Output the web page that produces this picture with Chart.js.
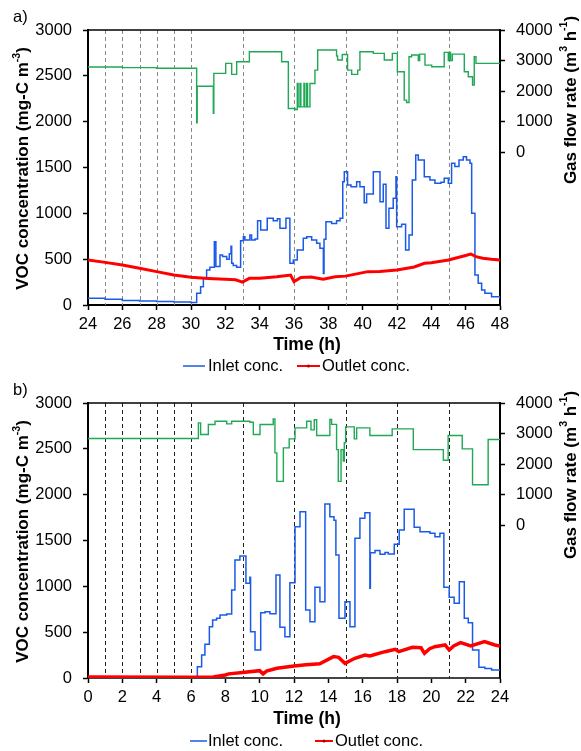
<!DOCTYPE html>
<html>
<head>
<meta charset="utf-8">
<script src="https://cdn.jsdelivr.net/npm/chart.js@4.4.0/dist/chart.umd.min.js"></script>
<style>
  body { margin: 0; background: #fff; }
  .panel { position: absolute; left: 0; width: 581px; }
</style>
</head>
<body>
<div class="panel" style="top:0"><canvas id="chartA" width="581" height="375"></canvas></div>
<div class="panel" style="top:375px"><canvas id="chartB" width="581" height="376"></canvas></div>
<script>
// ---- panel a (24-48 h) ----
const aInletT = [24,25,26,27,28,29,30,30.33,30.56,30.72,30.91,31.1,31.36,31.45,31.69,31.84,32.08,32.23,32.33,32.37,32.46,32.66,32.89,33.05,33.14,33.43,33.53,33.73,33.88,34.06,34.44,34.79,35.03,35.18,35.53,35.76,35.96,36.19,36.54,36.74,37.03,37.32,37.51,37.71,37.75,37.86,38.19,38.48,38.68,38.84,38.93,39.12,39.32,39.65,39.84,40.09,40.23,40.62,41.01,41.2,41.36,41.53,41.78,41.94,41.98,42.27,42.5,42.7,42.89,43.09,43.24,43.59,43.92,44.21,44.56,44.75,44.99,45.18,45.37,45.61,45.86,46.05,46.25,46.35,46.54,46.73,46.93,47.12,47.51,48];
const aInletV = [75,62,50,44,38,33,28,128,200,291,382,411,690,420,545,530,500,560,640,455,430,411,702,745,709,764,709,720,920,818,946,920,940,837,946,455,491,600,727,745,709,673,618,345,716,909,890,920,946,1345,1455,1309,1291,1345,1291,1116,1211,1455,1127,1316,837,1055,1164,1400,855,880,600,764,1364,1637,1582,1400,1364,1327,1340,1382,1327,1546,1510,1582,1618,1582,1546,1000,327,236,164,128,91,65];
const aOutT = [24,25,26,27,28,29,30,31,32,32.6,33,33.4,34,35,35.8,36,36.4,37,37.7,38.4,39,40.3,41,42,43,43.6,44,45,46,46.3,46.6,47,47.5,48];
const aOutV = [491,465,436,400,364,327,302,290,280,275,250,291,291,309,327,255,300,305,282,309,315,364,365,382,415,455,460,491,540,556,527,510,498,491];
const aFlowT = [24,26,28,30.33,30.36,31.3,31.33,32.02,32.37,32.66,33.4,35.28,35.67,36.06,36.19,36.24,36.35,36.4,36.58,36.63,36.74,36.79,36.93,37.22,37.38,38.48,38.54,38.81,39.12,39.36,39.71,39.84,40.62,41.26,41.73,42.02,42.42,42.56,42.7,42.85,43.24,43.32,43.63,44.02,44.75,44.99,45.05,45.12,45.22,45.92,46.15,46.4,46.5,46.6,48];
const aFlowV = [2790,2770,2750,960,2160,1270,2580,2907,2547,2960,3290,2960,1430,1400,2250,1485,2250,1485,2250,1485,2250,1485,2250,2688,3344,3147,3016,3200,2688,2547,2688,3290,3235,3016,3235,2633,1704,1628,3125,3180,3000,3212,2852,2796,3268,3000,3268,3000,3212,2633,2469,2196,3125,2907,2907];
const aMarks = [25,26,27,28,29,30,33,36,39,42,45];

// ---- panel b (0-24 h) ----
const bInletT = [0,6.37,6.62,6.81,7.07,7.26,7.49,7.69,8.08,8.37,8.56,8.85,9.2,9.43,9.47,9.73,10.06,10.31,10.6,10.95,11.18,11.47,11.76,12.06,12.35,12.68,12.93,13.22,13.51,13.8,14.09,14.33,14.44,14.62,14.97,15.26,15.55,15.84,16.13,16.42,16.45,16.72,17.01,17.3,17.49,17.84,18.13,18.42,19,19.34,19.92,20.21,20.5,20.73,21.04,21.33,21.63,21.92,22.15,22.4,22.77,23.12,23.51,24];
const bInletV = [5,124,251,367,560,633,651,687,698,960,1287,1331,1033,1099,505,305,713,724,700,1124,553,451,1040,1651,1815,742,614,990,833,1898,1760,1720,1342,651,833,560,1524,1742,1804,978,1367,1390,1350,1370,1353,1458,1615,1840,1644,1596,1580,1542,1580,990,880,815,1051,651,604,305,117,105,87,80];
const bOutT = [0,6,7.3,8,8.2,9,10,10.2,10.4,11,12,12.7,13.5,14.3,14.6,14.97,15.55,16.13,16.42,17.3,17.9,18.1,18.9,19.4,19.6,19.9,20.2,20.8,21.04,21.3,21.7,22.3,23.1,23.7,24];
const bOutV = [12,8,10,33,45,60,80,44,75,106,130,145,156,233,225,160,215,251,240,287,313,287,335,330,269,320,342,360,305,350,385,349,396,360,349];
const bFlowT = [0,6.43,6.56,7.01,7.4,8.08,8.37,9.43,9.63,10.02,10.79,10.89,11.0,11.38,11.72,12.06,12.74,12.99,13.18,13.32,14.09,14.19,14.48,14.58,14.74,14.87,14.93,15.01,15.51,15.65,16.42,17.72,18.95,20.7,20.98,21.8,22.4,23.31,24];
const bFlowV = [2836,3350,2967,3295,3404,3317,3404,3370,2967,3295,3480,2367,1435,2530,2826,3186,3404,3120,3450,2934,3459,3300,2475,1435,2475,2100,2700,3219,2826,3186,2934,3153,2475,2124,2934,2498,1327,2803,2803];
const bMarks = [1,2,3,4,5,6,9,12,15,18,21];

const FONT = '"Liberation Sans", Arial, sans-serif';
const BLUE = '#1a5ae8', RED = '#ff0000', GREEN = '#1fa855';
Chart.defaults.font.family = FONT;
Chart.defaults.color = '#000';

function pairs(ts, vs) {
  return ts.map((t, i) => ({ x: t, y: vs[i] }));
}

// draws text with superscript parts, centred on (0,0)
function richText(ctx, parts, size) {
  const sup = size * 0.62;
  let w = 0;
  parts.forEach(p => {
    ctx.font = 'bold ' + (p.s ? sup : size) + 'px ' + FONT;
    p.w = ctx.measureText(p.t).width;
    w += p.w;
  });
  let x = -w / 2;
  ctx.textAlign = 'left';
  ctx.textBaseline = 'middle';
  parts.forEach(p => {
    ctx.font = 'bold ' + (p.s ? sup : size) + 'px ' + FONT;
    ctx.fillText(p.t, x, p.s ? -size * 0.38 : 0);
    x += p.w;
  });
}

function deco(cfg) {
  return {
    id: 'deco',
    beforeDatasetsDraw(chart) {
      const { ctx, chartArea: a, scales: { x } } = chart;
      ctx.save();
      ctx.strokeStyle = cfg.dashColor;
      ctx.lineWidth = 1;
      ctx.setLineDash(cfg.dash);
      cfg.marks.forEach(t => {
        const px = Math.round(x.getPixelForValue(t)) + 0.5;
        ctx.beginPath();
        ctx.moveTo(px, a.top);
        ctx.lineTo(px, a.bottom);
        ctx.stroke();
      });
      ctx.restore();
    },
    afterDraw(chart) {
      const { ctx, chartArea: a } = chart;
      ctx.save();
      // top frame line
      ctx.strokeStyle = '#000';
      ctx.lineWidth = 1.5;
      ctx.beginPath();
      ctx.moveTo(a.left, a.top);
      ctx.lineTo(a.right, a.top);
      ctx.stroke();

      ctx.fillStyle = '#000';
      ctx.font = '16.5px ' + FONT;
      ctx.textAlign = 'left';
      ctx.textBaseline = 'alphabetic';
      ctx.fillText(cfg.label, 13, cfg.labelY);

      // left title
      ctx.save();
      ctx.translate(23.5, (a.top + a.bottom) / 2 + 1);
      ctx.rotate(-Math.PI / 2);
      richText(ctx, [{ t: 'VOC concentration (mg-C m' }, { t: '-3', s: true }, { t: ')' }], 17);
      ctx.restore();

      // right title
      ctx.save();
      ctx.translate(571, 100);
      ctx.rotate(-Math.PI / 2);
      richText(ctx, [{ t: 'Gas flow rate (m' }, { t: '3', s: true }, { t: ' h' }, { t: '-1', s: true }, { t: ')' }], 17);
      ctx.restore();

      // x title
      ctx.save();
      ctx.translate(307, cfg.timeY);
      richText(ctx, [{ t: 'Time (h)' }], 17.5);
      ctx.restore();

      // legend
      const ly = cfg.legendY;
      ctx.lineWidth = 1.5;
      ctx.strokeStyle = BLUE;
      ctx.beginPath();
      ctx.moveTo(cfg.inlet[0], ly);
      ctx.lineTo(cfg.inlet[1], ly);
      ctx.stroke();
      ctx.lineWidth = 2;
      ctx.strokeStyle = RED;
      ctx.beginPath();
      ctx.moveTo(cfg.outlet[0], ly);
      ctx.lineTo(cfg.outlet[1], ly);
      ctx.stroke();
      ctx.fillStyle = '#b00000';
      ctx.beginPath();
      ctx.arc((cfg.outlet[0] + cfg.outlet[1]) / 2, ly, 1.6, 0, Math.PI * 2);
      ctx.fill();
      ctx.fillStyle = '#000';
      ctx.font = '16.5px ' + FONT;
      ctx.textBaseline = 'middle';
      ctx.textAlign = 'left';
      ctx.fillText('Inlet conc.', cfg.inlet[2], ly);
      ctx.fillText('Outlet conc.', cfg.outlet[2], ly);
      ctx.restore();
    }
  };
}

function makeChart(id, d) {
  const ticksFont = { size: 16.5 };
  const plain = v => String(v);
  const tickGrid = { display: true, drawOnChartArea: false, drawTicks: true, tickLength: 5, tickColor: '#000', tickWidth: 1.5 };
  new Chart(document.getElementById(id), {
    type: 'line',
    data: {
      datasets: [
        { label: 'Outlet conc.', data: pairs(d.outT, d.outV), borderColor: RED, borderWidth: d.redWidth, pointRadius: 0, yAxisID: 'y' },
        { label: 'Inlet conc.', data: pairs(d.inT, d.inV), borderColor: BLUE, borderWidth: 1.5, pointRadius: 0, stepped: true, yAxisID: 'y' },
        { label: 'Gas flow rate', data: pairs(d.flowT, d.flowV), borderColor: GREEN, borderWidth: 1.4, pointRadius: 0, stepped: true, yAxisID: 'y2' }
      ]
    },
    options: {
      responsive: false,
      animation: false,
      devicePixelRatio: 1,
      layout: { padding: { top: d.top, left: 0, right: 0, bottom: 0 } },
      plugins: { legend: { display: false }, tooltip: { enabled: false } },
      scales: {
        x: {
          type: 'linear', min: d.xmin, max: d.xmax,
          ticks: { stepSize: 2, font: ticksFont, padding: 5, autoSkip: false, maxRotation: 0, callback: plain },
          grid: tickGrid,
          border: { display: true, color: d.bottomColor, width: 2 },
          afterFit: s => { s.height = d.xHeight; }
        },
        y: {
          position: 'left', min: 0, max: 3000,
          ticks: { stepSize: 500, font: ticksFont, padding: 11, callback: plain },
          grid: tickGrid,
          border: { display: true, color: '#000', width: 2 },
          afterFit: s => { s.width = 88; }
        },
        y2: {
          position: 'right', min: -5000, max: 4000,
          ticks: { stepSize: 1000, font: ticksFont, padding: 11, callback: plain },
          afterBuildTicks: s => { s.ticks = s.ticks.filter(t => t.value >= 0); },
          grid: tickGrid,
          border: { display: true, color: '#000', width: 2 },
          afterFit: s => { s.width = 81; }
        }
      }
    },
    plugins: [deco(d)]
  });
}

makeChart('chartA', {
  inT: aInletT, inV: aInletV, outT: aOutT, outV: aOutV, flowT: aFlowT, flowV: aFlowV,
  marks: aMarks, dash: [4, 3], dashColor: '#8a8a8a', bottomColor: '#000',
  xmin: 24, xmax: 48, top: 30, xHeight: 70, redWidth: 3,
  label: 'a)', labelY: 22, timeY: 345, legendY: 366,
  inlet: [183, 205, 208], outlet: [297, 320, 322]
});

makeChart('chartB', {
  inT: bInletT, inV: bInletV, outT: bOutT, outV: bOutV, flowT: bFlowT, flowV: bFlowV,
  marks: bMarks, dash: [4, 3], dashColor: '#222', bottomColor: '#444',
  xmin: 0, xmax: 24, top: 28, xHeight: 73, redWidth: 3.5,
  label: 'b)', labelY: 20, timeY: 344, legendY: 366,
  inlet: [190, 207, 208], outlet: [315, 333, 335]
});
</script>
</body>
</html>
